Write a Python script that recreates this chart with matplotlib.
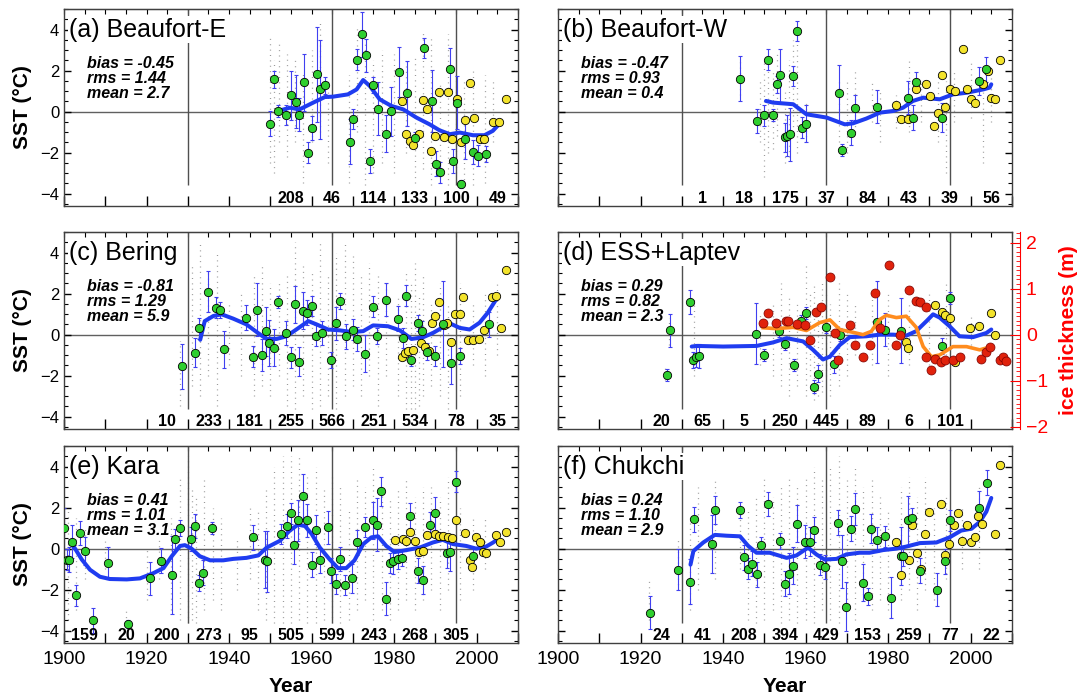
import matplotlib
matplotlib.use('agg')
from matplotlib import pyplot as plt
from matplotlib.ticker import MultipleLocator

plt.rcParams['font.family'] = ['Liberation Sans', 'DejaVu Sans']

# ---------------- data ----------------
split_years = [1930, 1965, 1995]

# (a) Beaufort-E
a_g_yr = [1950.0, 1950.8, 1951.9, 1953.9, 1955.1, 1956.2, 1957.0, 1958.1, 1959.2, 1960.2, 1961.2, 1962.1, 1963.2,
          1969.2, 1970.0, 1971.0, 1972.1, 1973.1, 1974.1, 1974.9, 1976.1, 1978.1, 1979.3, 1981.2, 1983.1, 1985.0,
          1987.2, 1989.3, 1990.2, 1991.2, 1993.5, 1994.3, 1995.2, 1996.3, 1997.1, 1999.1, 2000.3, 2002.3]
a_g_sst = [-0.58, 1.57, 0.03, -0.16, 0.80, 0.49, -0.15, 1.43, -2.00, -0.80, 1.81, 1.08, 1.28,
           -1.47, -0.37, 2.54, 3.76, 2.74, -2.41, 1.31, 0.15, -1.07, 0.02, 1.93, 0.89, -1.30,
           3.11, 0.52, -2.54, -2.96, 2.09, -2.41, 0.44, -3.53, -1.31, -1.96, -2.15, -2.07]
a_g_err = [0.6, 0.4, 0.3, 0.5, 1.2, 1.3, 0.8, 1.4, 0.5, 0.6, 2.3, 2.4, 0.4,
           1.1, 0.5, 0.5, 1.1, 0.8, 0.6, 0.4, 1.3, 0.9, 1.2, 1.2, 1.6, 0.3,
           0.5, 1.5, 0.6, 0.5, 1.0, 0.6, 1.3, 0.2, 1.0, 0.6, 0.5, 0.4]
a_y_yr = [1982.0, 1983.0, 1983.8, 1984.6, 1986.1, 1987.0, 1988.0, 1988.9, 1989.8, 1990.9, 1992.2, 1993.1,
          1994.1, 1995.2, 1996.3, 1997.3, 1998.3, 1999.3, 2000.7, 2001.9, 2004.0, 2005.4, 2007.2]
a_y_sst = [0.52, -1.10, -1.43, -1.62, -1.10, 0.57, 0.11, -1.91, -1.18, 0.96, -1.26, 0.96,
           -1.34, 0.63, -1.50, -0.40, 1.38, -0.29, -1.34, -1.34, -0.50, -0.50, 0.60]
a_l_yr = [1951.9, 1954.7, 1957.1, 1960.4, 1963.2, 1965.2, 1968.8, 1970.9, 1972.5, 1974.1, 1976.5, 1979.3,
          1982.2, 1985.4, 1988.6, 1991.0, 1993.5, 1995.9, 1999.1, 2001.9, 2003.9, 2005.6]
a_l_sst = [0.03, 0.19, 0.11, 0.44, 0.71, 0.73, 0.84, 1.08, 1.54, 1.25, 0.60, 0.28,
           0.11, -0.29, -0.62, -0.91, -1.10, -1.02, -1.15, -1.15, -0.94, -0.58]
a_gray = [(1950, -2.5, 3.8), (1951, -3.0, 2.5), (1952, -1.5, 3.5), (1954, -2.2, 2.8), (1956, -1.5, 2.5),
          (1958, -3.5, 2.0), (1960, -1.5, 3.0), (1962, -1.0, 4.4), (1964, -2.5, 1.5), (1969, -3.5, 1.8),
          (1971, -1.0, 4.2), (1973, -3.6, 3.5), (1975, -3.0, 2.5), (1977, -2.5, 3.0), (1980, -3.0, 2.8),
          (1983, -2.0, 2.5), (1985, -3.5, 2.8), (1987, -2.8, 4.0), (1989, -3.6, 3.6), (1991, -3.5, 1.5),
          (1993, -3.6, 3.8), (1995, -3.0, 2.0), (1997, -3.6, 1.5), (1999, -3.6, 2.0), (2002, -3.5, 1.8),
          (2004, -1.5, 1.6)]
a_counts = [208, 46, 114, 133, 100, 49]
a_count_start = 1950

# (b) Beaufort-W
b_g_yr = [1944.1, 1948.1, 1950.0, 1951.0, 1952.0, 1953.0, 1953.9, 1955.0, 1955.5, 1956.2, 1957.0, 1958.0,
          1959.2, 1960.0, 1968.1, 1968.9, 1971.1, 1971.9, 1977.2, 1984.8, 1986.8, 1986.0, 1993.1, 2002.0, 2003.8]
b_g_sst = [1.60, -0.45, -0.18, 2.54, -0.15, 1.33, 1.77, -1.26, -1.18, -1.10, 1.73, 3.92,
           -0.78, -0.58, 0.89, -1.86, -1.02, 0.19, 0.24, 0.68, 1.44, -0.29, -0.29, 1.49, 2.06]
b_g_err = [1.1, 0.6, 0.5, 0.5, 0.3, 0.4, 1.3, 0.7, 1.0, 1.3, 0.5, 0.5,
           0.5, 0.9, 1.4, 0.3, 0.6, 0.6, 0.8, 0.8, 0.5, 0.6, 0.7, 0.7, 0.6]
b_y_yr = [1982.0, 1983.0, 1984.8, 1986.8, 1989.1, 1990.1, 1991.1, 1992.1, 1993.1, 1993.9, 1995.1, 1996.1,
          1998.1, 1999.1, 2000.2, 2001.0, 2003.0, 2004.2, 2005.0, 2005.8, 2007.0]
b_y_sst = [0.31, -0.34, -0.34, 1.08, 1.33, 0.76, -0.70, -0.05, 1.77, 0.23, 1.08, 1.00,
           3.03, 1.12, 0.60, 0.44, 1.33, 1.98, 0.68, 0.63, 2.54]
b_l_yr = [1950.4, 1952.1, 1957.0, 1960.2, 1965.1, 1969.5, 1971.5, 1974.7, 1978.0, 1981.2, 1983.6, 1986.0,
          1988.5, 1992.5, 1995.7, 1999.0, 2003.0, 2004.6, 2005.0]
b_l_sst = [0.52, 0.44, 0.36, -0.13, -0.29, -0.62, -0.57, -0.34, -0.05, 0.03, 0.19, 0.52,
           0.68, 0.60, 0.84, 0.92, 1.08, 1.17, 1.33]
b_gray = [(1944, 0.8, 2.5), (1949, -1.5, 1.5), (1950, -3.2, 2.5), (1951, -2.0, 2.8), (1952, -1.8, 2.0),
          (1953, -1.2, 2.8), (1955, -2.5, 1.0), (1956, -2.2, 2.5), (1957, -1.0, 3.5), (1958, -2.0, 4.0),
          (1960, -1.5, 0.5), (1968, -1.5, 1.5), (1970, -2.0, 1.5), (1972, -1.0, 2.0), (1976, -0.5, 1.5),
          (1978, -1.5, 1.0), (1982, -0.8, 0.8), (1985, -1.0, 2.5), (1988, -0.5, 1.5), (1992, -1.5, 1.8),
          (1994, -3.0, 1.5), (1996, -0.5, 2.0), (2000, -0.3, 2.5), (2003, -2.5, 1.5), (2005, -0.5, 2.0)]
b_counts = [1, 18, 175, 37, 84, 43, 39, 56]
b_count_start = 1930

# (c) Bering
c_g_yr = [1928.7, 1931.7, 1932.8, 1934.9, 1936.8, 1937.8, 1938.8, 1944.2, 1945.8, 1946.8, 1947.9, 1948.9,
          1949.7, 1950.8, 1951.9, 1953.8, 1955.0, 1955.9, 1957.0, 1958.0, 1958.9, 1960.0, 1961.0, 1962.6,
          1964.8, 1966.0, 1967.0, 1968.4, 1970.0, 1971.0, 1972.9, 1974.9, 1975.9, 1978.1, 1981.0, 1982.2,
          1983.0, 1984.0, 1985.8, 1986.8, 1988.0, 1989.8, 1991.8, 1993.9, 1995.9, 2003.1]
c_g_sst = [-1.54, -0.88, 0.30, 2.10, 1.32, 1.19, -0.71, 0.83, -1.07, 1.21, -0.99, 0.17,
           -0.41, -0.63, 1.60, 0.08, -1.11, 1.49, -1.32, 1.16, 1.07, 1.40, -0.05, 0.08,
           -1.24, 0.55, 1.65, -0.08, 0.25, -0.21, -0.94, 1.37, -0.08, 1.70, 0.78, -0.17,
           1.90, -1.24, 0.58, 0.17, -0.83, -1.04, 0.50, -1.40, -1.04, 0.50]
c_g_err = [1.1, 0.7, 0.5, 1.0, 0.5, 0.4, 0.9, 0.6, 0.5, 1.3, 0.8, 1.2,
           1.1, 0.9, 0.3, 0.6, 0.5, 0.9, 0.7, 0.9, 0.6, 0.5, 0.5, 0.6,
           0.4, 0.8, 0.4, 0.6, 0.5, 0.6, 0.9, 0.5, 0.4, 0.8, 0.6, 0.5,
           0.5, 0.3, 0.4, 0.5, 0.4, 0.5, 2.1, 1.0, 0.4, 0.6]
c_y_yr = [1981.8, 1982.6, 1983.4, 1984.6, 1986.4, 1987.4, 1988.5, 1989.3, 1989.8, 1990.9, 1992.0, 1992.8,
          1993.9, 1994.7, 1995.9, 1996.7, 1997.9, 1999.1, 2000.6, 2001.9, 2003.8, 2004.8, 2006.0, 2007.0]
c_y_sst = [-1.07, -0.91, -0.78, -0.74, -0.41, -0.58, -0.78, 0.55, 0.91, 1.60, 0.45, 0.58,
           -0.38, 1.00, 1.00, 1.82, -0.28, -0.25, -0.21, 0.25, 1.82, 1.90, 0.33, 3.14]
c_l_yr = [1933.0, 1934.1, 1936.2, 1938.2, 1941.0, 1944.2, 1947.0, 1949.1, 1951.5, 1953.9, 1956.3, 1959.2,
          1961.2, 1964.0, 1966.8, 1969.7, 1972.5, 1974.9, 1978.5, 1981.4, 1984.2, 1987.0, 1989.4, 1991.8,
          1993.5, 1995.9, 1998.3, 2000.7, 2002.7, 2004.8]
c_l_sst = [-0.25, 0.66, 0.91, 0.99, 0.78, 0.50, 0.08, -0.21, -0.21, -0.08, 0.25, 0.66,
           0.50, 0.25, 0.21, 0.13, 0.17, 0.45, 0.41, 0.21, -0.21, -0.13, 0.08, 0.36,
           0.55, 0.33, 0.25, 0.58, 1.07, 1.74]
c_gray = [(1928, -3.5, -0.3), (1931, -2.5, 3.5), (1933, -3.0, 4.5), (1935, -2.0, 3.0), (1937, -3.5, 4.0),
          (1940, -1.5, 1.5), (1943, -2.0, 2.0), (1946, -3.0, 3.0), (1948, -2.5, 3.5), (1950, -3.0, 2.5),
          (1952, -2.0, 2.5), (1954, -3.5, 3.0), (1956, -3.6, 4.5), (1958, -3.0, 3.5), (1960, -3.6, 3.0),
          (1962, -3.5, 4.5), (1964, -3.0, 3.0), (1966, -3.6, 4.0), (1968, -3.0, 4.5), (1970, -2.5, 4.0),
          (1972, -3.0, 3.0), (1974, -2.0, 3.5), (1976, -3.5, 3.0), (1978, -2.0, 2.5), (1981, -3.0, 2.0),
          (1983, -3.6, 3.0), (1984, -3.6, 2.5), (1985, -3.6, 3.5), (1986, -3.5, 2.0), (1987, -3.0, 3.0),
          (1989, -2.5, 1.5), (1991, -3.0, 2.5), (1993, -3.6, 1.5), (1996, -3.0, 2.5), (1999, -1.5, 1.5),
          (2002, -2.0, 2.0), (2005, -1.0, 2.5)]
c_counts = [10, 233, 181, 255, 566, 251, 534, 78, 35]
c_count_start = 1920

# (d) ESS+Laptev
d_g_yr = [1926.3, 1927.1, 1932.1, 1932.8, 1933.4, 1934.1, 1947.9, 1950.0, 1953.6, 1955.0, 1957.1, 1959.0,
          1960.0, 1962.0, 1963.0, 1964.9, 1966.8, 1968.3, 1977.2, 1979.2, 1983.2, 1993.1, 1995.1]
d_g_sst = [-1.98, 0.21, 1.60, -1.24, -1.10, -1.04, 0.05, -0.99, 0.17, -0.46, -1.49, 0.66,
           1.07, -2.53, -1.90, 0.36, -1.45, 0.00, 0.61, 0.25, 0.20, -0.55, 1.78]
d_g_err = [0.3, 0.8, 0.6, 0.4, 0.5, 0.6, 1.5, 0.3, 0.3, 0.3, 0.3, 0.3,
           0.3, 0.3, 0.4, 0.3, 0.4, 0.3, 2.0, 0.8, 1.6, 0.4, 0.3]
d_y_yr = [1984.3, 1984.8, 1991.3, 1993.1, 1993.9, 1994.9, 1996.1, 1999.8, 2002.0, 2005.0, 2005.8]
d_y_sst = [-0.38, -0.66, 1.44, 1.12, 0.94, 0.83, -1.32, 0.33, 0.41, 1.07, 0.00]
d_l_yr = [1932.4, 1933.6, 1940.0, 1948.1, 1952.1, 1955.4, 1959.4, 1961.8, 1964.2, 1965.9, 1968.3, 1970.7,
          1974.7, 1978.0, 1981.2, 1984.4, 1986.8, 1989.3, 1990.9, 1992.5, 1994.9, 1997.3, 2000.6, 2003.8, 2005.0]
d_l_sst = [-0.58, -0.55, -0.58, -0.55, -0.38, -0.17, -0.33, -0.74, -1.21, -1.07, -0.50, -0.12,
           -0.08, 0.00, 0.00, -0.05, 0.17, 0.66, 0.99, 0.83, 0.41, -0.08, -0.12, 0.08, 0.25]
d_gray = [(1926, -2.2, -1.6), (1927, -0.5, 0.8), (1933, -2.0, 1.8), (1949, -1.5, 1.0), (1952, -2.0, 1.5),
          (1954, -2.5, 2.5), (1956, -3.0, 2.0), (1958, -2.5, 1.5), (1960, -3.0, 3.5), (1961, -2.0, 2.0),
          (1962, -3.2, 2.5), (1963, -3.0, 1.5), (1964, -2.8, 2.5), (1965, -2.0, 2.0), (1966, -3.0, 1.5),
          (1968, -2.5, 2.5), (1970, -2.0, 2.0), (1972, -1.0, 1.5), (1976, -1.5, 2.0), (1980, -2.0, 2.0),
          (1985, -1.5, 1.5), (1990, -1.5, 2.0), (1994, -1.0, 2.5), (2000, -0.5, 1.0)]
d_counts = [20, 65, 5, 250, 445, 89, 6, 101]
d_count_start = 1920
# ice thickness (m), red points and orange smooth
ice_yr = [1949.7, 1950.9, 1952.9, 1955.2, 1955.8, 1957.8, 1959.8, 1961.0, 1962.6, 1963.8, 1965.9, 1967.1,
          1967.9, 1970.7, 1971.9, 1973.9, 1975.5, 1976.8, 1978.0, 1980.2, 1982.0, 1982.8, 1985.1, 1986.7,
          1987.7, 1989.3, 1989.1, 1990.5, 1991.3, 1992.9, 1993.9, 1995.7, 1997.3, 2002.6, 2003.8, 2004.6,
          2007.0, 2007.8, 2008.6]
ice_m = [0.26, 0.48, 0.26, 0.29, 0.29, 0.24, 0.22, -0.11, 0.50, 0.61, 1.25, 0.04,
         -0.55, 0.22, -0.22, -0.48, -0.22, 0.90, 0.15, 1.51, -0.22, 0.00, 0.98, 0.74,
         0.70, 0.61, -0.48, -0.77, -0.52, -0.59, -0.55, -0.55, -0.48, -0.52, -0.37, -0.26,
         -0.55, -0.48, -0.57]
ice_l_yr = [1949.7, 1952.9, 1957.0, 1960.2, 1963.4, 1965.9, 1968.3, 1971.5, 1973.9, 1975.9, 1978.0, 1979.6,
            1982.0, 1984.4, 1986.8, 1988.5, 1990.5, 1992.5, 1995.7, 1999.0, 2002.2, 2003.8]
ice_l_m = [0.15, 0.13, 0.16, 0.09, 0.26, 0.32, 0.11, 0.05, 0.00, 0.07, 0.33, 0.42,
           0.37, 0.40, 0.16, -0.26, -0.48, -0.44, -0.26, -0.26, -0.33, -0.29]

# (e) Kara
e_g_yr = [1900.0, 1900.6, 1901.3, 1901.9, 1902.9, 1903.9, 1905.1, 1906.9, 1910.7, 1915.6, 1920.8, 1923.6,
          1926.1, 1926.9, 1928.1, 1930.7, 1931.7, 1932.8, 1933.7, 1935.8, 1945.8, 1948.7, 1949.1, 1952.5,
          1954.0, 1954.9, 1955.7, 1956.7, 1958.0, 1958.9, 1960.0, 1961.0, 1962.1, 1964.0, 1964.8, 1965.9,
          1967.0, 1968.0, 1969.9, 1970.9, 1972.9, 1974.9, 1975.9, 1976.9, 1978.0, 1978.9, 1979.7, 1981.0,
          1982.0, 1983.9, 1985.8, 1987.0, 1988.8, 1989.8, 1992.7, 1993.6, 1994.9, 1999.1]
e_g_sst = [1.00, -0.53, -0.53, 0.33, -2.28, 0.77, -0.12, -3.50, -0.70, -3.67, -1.45, -0.58,
           -1.28, 0.47, 1.00, 0.47, 1.10, -1.67, -1.17, 1.00, 0.55, -0.53, -0.62, 0.72,
           1.10, 1.72, 0.17, 1.38, 2.55, 1.38, -0.78, 0.93, -0.57, 1.05, -1.08, -1.73,
           -0.50, -1.78, -1.45, 0.30, 1.05, 1.38, 1.17, 2.80, -2.45, -0.70, -0.62, -0.50,
           -0.45, 1.60, -1.07, -1.53, 1.17, 1.72, -0.23, -0.17, 3.27, -0.37]
e_g_err = [1.0, 0.5, 0.6, 0.8, 0.5, 0.6, 0.7, 0.6, 0.8, 0.2, 0.8, 0.6,
           1.9, 0.5, 0.4, 0.6, 0.6, 0.4, 0.6, 0.3, 0.6, 1.4, 1.5, 0.5,
           0.6, 0.5, 0.9, 1.0, 1.1, 0.8, 0.6, 0.7, 0.6, 0.8, 0.6, 0.5,
           0.6, 0.5, 0.7, 0.6, 0.5, 0.9, 1.3, 0.7, 0.8, 0.5, 0.6, 0.5,
           0.4, 0.6, 0.6, 0.7, 0.6, 0.8, 0.7, 0.9, 0.5, 0.4]
e_y_yr = [1980.1, 1982.2, 1983.0, 1983.9, 1985.0, 1986.0, 1987.0, 1988.0, 1989.8, 1990.9, 1991.8, 1993.0,
          1994.1, 1994.9, 1997.1, 1998.3, 1998.9, 1999.9, 2000.7, 2001.5, 2002.3, 2004.6, 2005.6, 2007.0]
e_y_sst = [0.43, 0.47, 0.37, 0.80, 0.38, -0.17, -0.12, 0.67, 0.72, 0.60, 0.63, 0.55,
           0.50, 1.38, 0.77, -0.53, -0.90, 0.55, 0.30, -0.17, -0.20, 0.67, 0.30, 0.83]
e_l_yr = [1901.9, 1904.3, 1906.3, 1908.7, 1911.1, 1915.2, 1918.4, 1921.6, 1924.1, 1926.1, 1928.1, 1929.3,
          1930.9, 1932.9, 1935.4, 1938.6, 1941.0, 1944.2, 1947.1, 1949.1, 1952.3, 1954.7, 1956.7, 1958.4,
          1960.0, 1962.0, 1964.4, 1966.4, 1968.4, 1970.4, 1972.5, 1974.5, 1976.1, 1978.1, 1980.1, 1983.0,
          1986.2, 1989.4, 1991.8, 1994.3, 1997.5, 1999.9, 2002.3, 2004.0, 2005.2]
e_l_sst = [0.25, -0.53, -1.03, -1.37, -1.48, -1.50, -1.45, -1.20, -0.95, -0.37, 0.13, 0.17,
           0.00, -0.37, -0.57, -0.57, -0.50, -0.45, -0.33, 0.05, 0.38, 0.88, 1.17, 1.10,
           0.72, 0.05, -0.53, -0.95, -0.95, -0.57, 0.22, 0.55, 0.60, 0.13, -0.17, -0.07,
           0.05, 0.30, 0.43, 0.22, 0.13, 0.00, 0.10, 0.30, 0.47]
e_gray = [(1901, -3.5, 2.0), (1903, -3.0, 1.5), (1905, -1.5, 1.0), (1910, -1.0, 0.5), (1915, -3.6, -3.0),
          (1920, -2.5, 0.0), (1923, -1.5, 0.5), (1926, -3.0, 1.5), (1928, -3.5, 3.5), (1930, -3.6, 4.5),
          (1931, -3.5, 3.0), (1932, -3.6, 2.5), (1934, -3.0, 3.5), (1936, -2.5, 2.0), (1938, -3.0, 1.5),
          (1942, -2.0, 0.5), (1945, -1.5, 2.0), (1947, -3.0, 2.0), (1949, -3.5, 3.0), (1951, -3.6, 4.0),
          (1953, -3.6, 4.5), (1955, -3.6, 4.5), (1957, -3.5, 4.5), (1959, -3.6, 3.5), (1961, -3.6, 4.0),
          (1963, -3.5, 3.0), (1965, -3.6, 3.5), (1967, -3.6, 3.0), (1969, -3.5, 2.0), (1971, -3.0, 3.5),
          (1973, -2.5, 3.0), (1975, -3.5, 4.0), (1977, -3.0, 3.0), (1979, -3.5, 2.5), (1981, -3.0, 3.0),
          (1983, -2.5, 3.5), (1985, -3.0, 2.5), (1987, -2.5, 3.0), (1989, -2.0, 3.0), (1991, -3.0, 2.5),
          (1993, -2.0, 3.5), (1996, -2.5, 2.0), (1999, -2.0, 1.5), (2002, -1.0, 1.5)]
e_counts = [159, 20, 200, 273, 95, 505, 599, 243, 268, 305]
e_count_start = 1900

# (f) Chukchi
f_g_yr = [1922.3, 1929.1, 1932.1, 1933.0, 1937.2, 1938.0, 1944.1, 1945.0, 1946.1, 1946.9, 1948.1, 1949.1,
          1950.9, 1953.9, 1955.0, 1956.0, 1957.0, 1958.0, 1959.8, 1961.0, 1962.0, 1963.4, 1964.6, 1967.9,
          1968.9, 1969.9, 1970.9, 1971.9, 1973.8, 1975.1, 1975.9, 1977.2, 1979.2, 1980.8, 1983.0, 1983.6,
          1984.8, 1985.9, 1987.8, 1991.8, 1993.9, 1994.9, 2002.0, 2004.0]
f_g_sst = [-3.12, -1.03, -1.62, 1.43, 0.22, 1.88, 1.88, -0.42, -0.98, -0.73, -1.25, 0.17,
           2.17, 0.38, -1.70, -1.23, -0.83, 1.22, 0.33, 0.33, 0.93, -0.78, -0.90, 1.27,
           -0.62, -2.83, 0.97, 1.93, -1.67, -2.33, 0.97, 0.43, 0.60, -2.40, -0.37, -0.37,
           1.38, 1.50, -1.07, -2.00, -0.62, 1.38, 2.00, 3.22]
f_g_err = [0.8, 1.0, 1.1, 0.6, 1.4, 0.7, 0.4, 0.6, 0.5, 0.6, 0.6, 0.4,
           0.6, 0.4, 0.6, 1.0, 0.9, 0.9, 0.8, 0.7, 0.6, 0.5, 0.6, 0.6,
           1.3, 1.2, 0.6, 0.8, 0.9, 0.4, 0.7, 0.6, 0.5, 1.0, 1.4, 0.5,
           1.2, 0.5, 0.6, 0.8, 0.6, 0.5, 0.8, 0.6]
f_y_yr = [1982.0, 1983.0, 1985.1, 1985.9, 1986.9, 1987.9, 1988.9, 1990.0, 1992.9, 1993.9, 1994.8, 1995.9,
          1997.0, 1998.0, 1999.0, 2000.0, 2001.0, 2001.8, 2002.8, 2005.8, 2007.0]
f_y_sst = [0.33, -1.28, -0.53, 1.13, -0.23, -1.00, 0.72, 1.77, 2.17, -0.33, 0.22, 1.13,
           1.72, 0.38, 1.13, 0.33, 0.55, 1.60, 1.22, 0.72, 4.10]
f_l_yr = [1932.1, 1932.8, 1935.2, 1938.0, 1940.8, 1944.1, 1946.1, 1948.1, 1951.3, 1955.4, 1957.8, 1960.6,
          1962.6, 1964.6, 1967.5, 1969.9, 1973.1, 1975.5, 1978.8, 1982.0, 1984.4, 1987.7, 1991.7, 1994.9,
          1997.7, 2000.2, 2002.2, 2003.8, 2005.0]
f_l_sst = [-0.78, -0.12, 0.30, 0.67, 0.63, 0.60, 0.13, -0.20, -0.20, -0.45, -0.33, 0.05,
           -0.28, -0.53, -0.50, -0.28, -0.20, -0.20, -0.07, 0.00, 0.10, 0.27, 0.30, 0.55,
           0.88, 0.97, 1.30, 1.80, 2.47]
f_gray = [(1922, -3.5, -1.5), (1929, -2.0, 0.5), (1932, -3.0, 1.5), (1934, -2.0, 3.0), (1938, -1.5, 3.5),
          (1944, -1.0, 2.0), (1946, -3.5, 2.0), (1948, -3.6, 2.5), (1950, -3.5, 3.5), (1952, -3.0, 2.5),
          (1954, -3.6, 3.0), (1956, -3.5, 3.5), (1958, -3.6, 3.0), (1960, -3.5, 3.5), (1962, -3.6, 4.0),
          (1964, -3.0, 3.5), (1966, -3.5, 4.0), (1968, -3.6, 4.5), (1970, -3.0, 3.5), (1972, -3.5, 4.0),
          (1974, -2.5, 3.0), (1976, -3.0, 3.5), (1978, -2.5, 2.5), (1980, -3.0, 2.0), (1983, -2.5, 3.0),
          (1985, -2.0, 3.5), (1987, -3.0, 2.5), (1989, -2.0, 3.5), (1991, -2.5, 2.0), (1994, -1.5, 2.5),
          (1998, -1.0, 2.0), (2002, -1.0, 3.0)]
f_counts = [24, 41, 208, 394, 429, 153, 259, 77, 22]
f_count_start = 1920

titles = ['(a) Beaufort-E', '(b) Beaufort-W', '(c) Bering', '(d) ESS+Laptev', '(e) Kara', '(f) Chukchi']
biases = ['-0.45', '-0.47', '-0.81', '0.29', '0.41', '0.24']
rmss = ['1.44', '0.93', '1.29', '0.82', '1.01', '1.10']
means = ['2.7', '0.4', '5.9', '2.3', '3.1', '2.9']

panels = [
    (a_g_yr, a_g_sst, a_g_err, a_y_yr, a_y_sst, a_l_yr, a_l_sst, a_gray, a_counts, a_count_start),
    (b_g_yr, b_g_sst, b_g_err, b_y_yr, b_y_sst, b_l_yr, b_l_sst, b_gray, b_counts, b_count_start),
    (c_g_yr, c_g_sst, c_g_err, c_y_yr, c_y_sst, c_l_yr, c_l_sst, c_gray, c_counts, c_count_start),
    (d_g_yr, d_g_sst, d_g_err, d_y_yr, d_y_sst, d_l_yr, d_l_sst, d_gray, d_counts, d_count_start),
    (e_g_yr, e_g_sst, e_g_err, e_y_yr, e_y_sst, e_l_yr, e_l_sst, e_gray, e_counts, e_count_start),
    (f_g_yr, f_g_sst, f_g_err, f_y_yr, f_y_sst, f_l_yr, f_l_sst, f_gray, f_counts, f_count_start),
]

# ---------------- plot ----------------
YMIN, YMAX = -4.6, 5.0
ICE_SCALE = 2.245

fig = plt.figure(figsize=(10.91, 7.0), dpi=100)
lefts = [0.0587, 0.5115]
bottoms = [0.7057, 0.3871, 0.0814]
w, h = 0.416, 0.2814

for i, p in enumerate(panels):
    g_yr, g_sst, g_err, y_yr, y_sst, l_yr, l_sst, gray, counts, cstart = p
    row, col = i // 2, i % 2
    ax = fig.add_axes([lefts[col], bottoms[row], w, h])
    ax.set_xlim(1900, 2010)
    ax.set_ylim(YMIN, YMAX)

    for yr, lo, hi in gray:
        ax.vlines(yr, lo, hi, colors='#9a9a9a', linestyles=(0, (0.8, 3.5)), linewidth=0.9, zorder=1)
    ax.axhline(0, color='#606060', lw=1.0, zorder=1.5)
    ax.vlines(split_years, -3.6, YMAX, colors='#505050', lw=1.0, zorder=1.5)

    ax.errorbar(g_yr, g_sst, yerr=g_err, fmt='none', ecolor='#4040f0', elinewidth=0.8,
                capsize=1.6, capthick=0.8, zorder=2)
    ax.plot(l_yr, l_sst, color='#1f3cf0', lw=2.9, solid_capstyle='round', zorder=3)
    ax.scatter(y_yr, y_sst, s=36, c='#f3e32b', edgecolors='black', linewidths=0.6, zorder=4)
    ax.scatter(g_yr, g_sst, s=36, c='#2fcf2f', edgecolors='black', linewidths=0.6, zorder=5)

    for k, n in enumerate(counts):
        ax.text(cstart + 10 * k + 5, -4.22, str(n), ha='center', va='center',
                fontsize=11.5, fontweight='bold', zorder=6)

    ax.text(1901.3, 4.0, titles[i], fontsize=18, ha='left', va='center', zorder=7,
            bbox=dict(facecolor='white', edgecolor='none', pad=1.0))
    stats = 'bias = %s\nrms = %s\nmean = %s' % (biases[i], rmss[i], means[i])
    ax.text(1905.5, 2.7, stats, fontsize=11.5, fontweight='bold', fontstyle='italic',
            family=['Liberation Sans Narrow', 'Liberation Sans'], ha='left', va='top',
            linespacing=1.0, zorder=7)

    ax.set_xticks(range(1900, 2011, 10))
    ax.yaxis.set_major_locator(MultipleLocator(2))
    ax.yaxis.set_minor_locator(MultipleLocator(0.5))
    ax.tick_params(axis='x', which='major', direction='in', length=7, width=1, top=False, bottom=True)
    ax.tick_params(axis='y', which='major', direction='in', length=5, width=1, left=True,
                   right=True, labelsize=12)
    ax.tick_params(axis='y', which='minor', direction='in', length=3, width=0.8, left=True,
                   right=True)
    top = ax.secondary_xaxis('top')
    top.set_xticks(range(1900, 2011, 5))
    top.tick_params(direction='in', length=3.5, width=0.8, labeltop=False)

    if row == 2:
        ax.set_xticklabels([str(y) if y % 20 == 0 else '' for y in range(1900, 2011, 10)])
        ax.tick_params(axis='x', labelsize=14, pad=6)
        ax.set_xlabel('Year', fontsize=15, fontweight='bold', labelpad=6)
    else:
        ax.set_xticklabels([])
    if col == 0:
        ax.set_ylabel('SST (°C)', fontsize=15, fontweight='bold', labelpad=6)
    else:
        ax.set_yticklabels([])
    for sp in ax.spines.values():
        sp.set_color('#404040')
        sp.set_linewidth(1.0)

    if i == 3:
        ax2 = ax.twinx()
        ax2.set_ylim(YMIN / ICE_SCALE, YMAX / ICE_SCALE)
        ax2.plot(ice_l_yr, ice_l_m, color='#ff8c1e', lw=2.6, zorder=3)
        ax2.scatter(ice_yr, ice_m, s=42, c='#e0220c', edgecolors='#7a0000', linewidths=0.5, zorder=4)
        ax2.yaxis.set_major_locator(MultipleLocator(1))
        ax2.yaxis.set_minor_locator(MultipleLocator(0.1))
        ax2.tick_params(axis='y', which='major', direction='in', length=7, colors='red',
                        labelsize=14, pad=4)
        ax2.tick_params(axis='y', which='minor', direction='in', length=3, colors='red')
        ax2.spines['right'].set_color('red')
        ax2.spines['right'].set_position(('outward', 6))
        ax2.spines['left'].set_visible(False)
        ax2.spines['top'].set_visible(False)
        ax2.spines['bottom'].set_visible(False)
        ax2.set_ylabel('ice thickness (m)', color='red', fontsize=15, fontweight='bold', labelpad=8)

fig.savefig('out.png', dpi=100)
